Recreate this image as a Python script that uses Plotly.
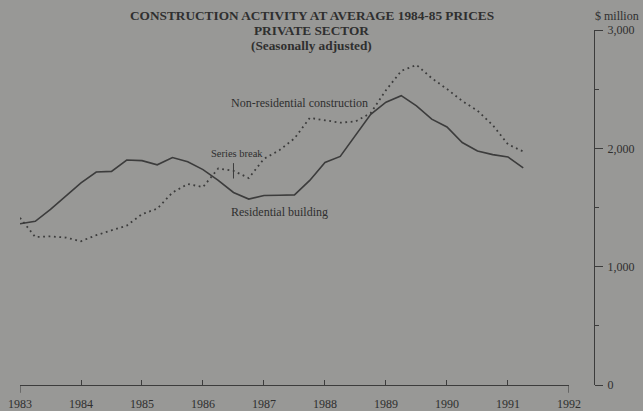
import plotly.graph_objects as go

# Quarterly observations, 1983 Q1 .. 1991 Q2 (year fraction)
quarters = [1983 + i / 4 for i in range(34)]

residential = [1362, 1383, 1485, 1596, 1708, 1800, 1805, 1901, 1896, 1861,
               1922, 1886, 1820, 1729, 1627, 1571, 1601, 1604, 1607, 1729,
               1881, 1932, 2115, 2288, 2390, 2445, 2359, 2247, 2181, 2049,
               1978, 1947, 1927, 1835]

non_residential = [1413, 1251, 1256, 1246, 1215, 1266, 1307, 1347, 1444, 1490,
                   1627, 1698, 1673, 1830, 1810, 1749, 1912, 1983, 2084, 2257,
                   2237, 2217, 2227, 2298, 2491, 2654, 2705, 2593, 2501, 2400,
                   2318, 2196, 2034, 1973]

year_ticks = [1983, 1984, 1985, 1986, 1987, 1988, 1989, 1990, 1991, 1992]
value_ticks = [0, 1000, 2000, 3000]
series_break_year = 1986.5

BG = "#989896"
INK = "#2f2f2f"
LINE = "#3c3c3c"
SERIF = "Liberation Serif, Times New Roman, serif"

fig = go.Figure()
fig.add_trace(go.Scatter(x=quarters, y=residential, mode="lines",
                         line=dict(color=LINE, width=1.6), name="Residential building"))
fig.add_trace(go.Scatter(x=quarters, y=non_residential, mode="lines",
                         line=dict(color=LINE, width=1.8, dash="1.8px,3.6px"),
                         name="Non-residential construction"))

# series break marker
brk_val = non_residential[quarters.index(series_break_year)]
fig.add_shape(type="line", xref="x", yref="y", x0=series_break_year, x1=series_break_year,
              y0=brk_val - 65, y1=brk_val + 65, line=dict(color=LINE, width=1))

# end ticks of the time axis pointing down
for yr in (year_ticks[0], year_ticks[-1]):
    fig.add_shape(type="line", xref="x", yref="paper", x0=yr, x1=yr, y0=0, y1=-0.022,
                  line=dict(color=LINE, width=1))

title_lines = ["CONSTRUCTION ACTIVITY AT AVERAGE 1984-85 PRICES",
               "PRIVATE SECTOR", "(Seasonally adjusted)"]
for i, t in enumerate(title_lines):
    fig.add_annotation(text=f"<b>{t}</b>", xref="paper", yref="paper",
                       x=0.5087, y=1.042 - i * 0.0423, showarrow=False,
                       xanchor="center", yanchor="middle",
                       font=dict(family=SERIF, size=13.3, color=INK))

fig.add_annotation(text="$ million", xref="paper", yref="paper", x=1.04, y=1.039,
                   showarrow=False, xanchor="center", yanchor="middle",
                   font=dict(family=SERIF, size=12, color=INK))

labels = [("Non-residential construction", 1987.59, 2383, 12),
          ("Series break", 1986.56, 1960, 10.5),
          ("Residential building", 1987.26, 1462, 12)]
for txt, lx, ly, fs in labels:
    fig.add_annotation(text=txt, x=lx, y=ly, xref="x", yref="y", showarrow=False,
                       xanchor="center", yanchor="middle",
                       font=dict(family=SERIF, size=fs, color=INK))

fig.update_layout(
    width=643, height=411,
    margin=dict(l=20, r=49, t=30, b=26, autoexpand=False),
    paper_bgcolor=BG, plot_bgcolor=BG,
    showlegend=False,
    hovermode=False,
    font=dict(family=SERIF, color=INK),
    xaxis=dict(domain=[0, 0.9564], range=[1983, 1992], tickvals=year_ticks,
               ticktext=[str(y) for y in year_ticks], automargin=False,
               showgrid=False, zeroline=False, showline=True, linecolor=LINE, linewidth=1,
               ticks="inside", ticklen=5, tickcolor=LINE, ticklabelstandoff=8,
               tickfont=dict(family=SERIF, size=12, color=INK)),
    yaxis=dict(range=[0, 3000], side="right", anchor="free", position=1,
               tickvals=value_ticks, tickformat=",", automargin=False,
               showgrid=False, zeroline=False, showline=True, linecolor=LINE, linewidth=1,
               ticks="outside", ticklen=8, tickcolor=LINE, ticklabelstandoff=2,
               minor=dict(dtick=500, ticks="outside", ticklen=4, tickcolor=LINE),
               tickfont=dict(family=SERIF, size=12, color=INK)),
)

fig.write_html("out.html", config={"displayModeBar": False},
               post_script="document.body.style.margin='0';document.body.style.overflow='hidden';"
                           "document.body.style.background='" + BG + "';")
